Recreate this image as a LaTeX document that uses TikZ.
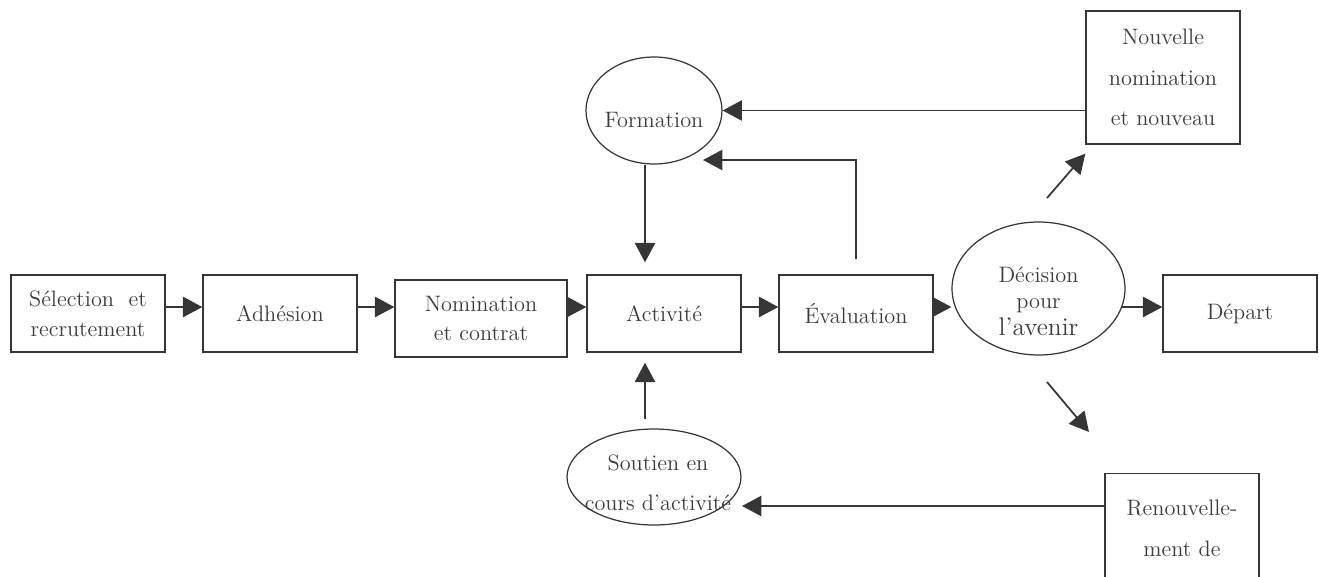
\documentclass[tikz,border=0pt]{standalone}
\usepackage{tikz}
\usetikzlibrary{arrows.meta,shapes.geometric}
\definecolor{ink}{HTML}{363636}
\definecolor{txt}{HTML}{3C3C3C}

\begin{document}
\begin{tikzpicture}[
        x=0.02cm,
        y=-0.02cm,
        font=\fontsize{12.7}{23}\selectfont,
        box/.style={draw=ink, line width=0.8pt, minimum width=3.08cm, minimum height=1.54cm, align=center, text=txt, inner sep=1pt},
        oval/.style={draw=ink, line width=0.7pt, ellipse, inner sep=0pt},
        word/.style={text=txt, align=center, inner sep=0pt},
        flow/.style={draw=ink, line width=1pt, -{Triangle[length=11pt, width=11.5pt]}}
    ]
    \useasboundingbox (0,0) rectangle (1319,576);

    % main row
    \node[box, font=\fontsize{12.7}{17}\selectfont] (sel) at (88,313.5) {Sélection\ \ et\\recrutement};
    \node[box] (adh) at (280,313.5) {Adhésion};
    \node[box, minimum width=3.44cm, font=\fontsize{12.7}{16}\selectfont] (nom) at (481,318.5) {Nomination\\et contrat};
    \node[box] (act) at (664,313.5) {Activité};
    \node[box] (eva) at (856,313.5) {Évaluation};
    \node[oval, minimum width=3.46cm, minimum height=2.66cm,
        label={[word, name=dectxt, yshift=-0.25cm, font=\fontsize{12.7}{15}\selectfont]center:{Décision\\pour\\{\fontsize{14.5}{18}\selectfont l’avenir}}}] (dec) at (1038.5,288.5) {};
    \node[box] (dep) at (1240,313.5) {Départ};

    % around
    \node[oval, minimum width=2.72cm, minimum height=2.14cm,
        label={[word, name=formtxt, yshift=-0.19cm]center:Formation}] (form) at (654,110.5) {};
    \node[oval, minimum width=3.48cm, minimum height=1.92cm,
        label={[word, name=souttxt, yshift=-0.11cm, xshift=0.08cm]center:{Soutien en\\cours d’activité}}] (sout) at (654,477) {};
    \node[box, minimum height=2.66cm] (nouv) at (1163,77.5) {Nouvelle\\nomination\\et nouveau};
    \node[box, minimum height=2.18cm, anchor=north] (ren) at (1182,473) {Renouvelle-\\ment de};

    \coordinate (row) at (0,307);
    \coordinate (col) at (645,0);
    \coordinate (fb) at (703,160);
    \coordinate (sb) at (742,506);
    \coordinate (d1) at (1047,198);
    \coordinate (d2) at (1047,382);
    \coordinate (d3) at (1089,432);

    \draw[flow] (sel.east |- row) -- (adh.west |- row);
    \draw[flow] (adh.east |- row) -- (nom.west |- row);
    \draw[flow] (nom.east |- row) -- (act.west |- row);
    \draw[flow] (act.east |- row) -- (eva.west |- row);
    \draw[flow] (eva.east |- row) -- (dec.west |- row);
    \draw[flow] ([xshift=-0.07cm]dec.east |- row) -- (dep.west |- row);

    \draw[flow, shorten >=0.24cm] (form.south -| col) -- (act.north -| col);
    \draw[flow, shorten <=0.18cm, shorten >=0.2cm] (sout.north -| col) -- (act.south -| col);
    \draw[flow, shorten <=0.3cm] (eva.north) |- (fb);
    \draw[flow] (nouv.west |- form.east) -- (form.east);
    \draw[flow] (d1) -- ([yshift=-0.18cm]nouv.south west);
    \draw[flow] (d2) -- (d3);
    \draw[flow] (sb -| ren.west) -- (sb);
\end{tikzpicture}
\end{document}
